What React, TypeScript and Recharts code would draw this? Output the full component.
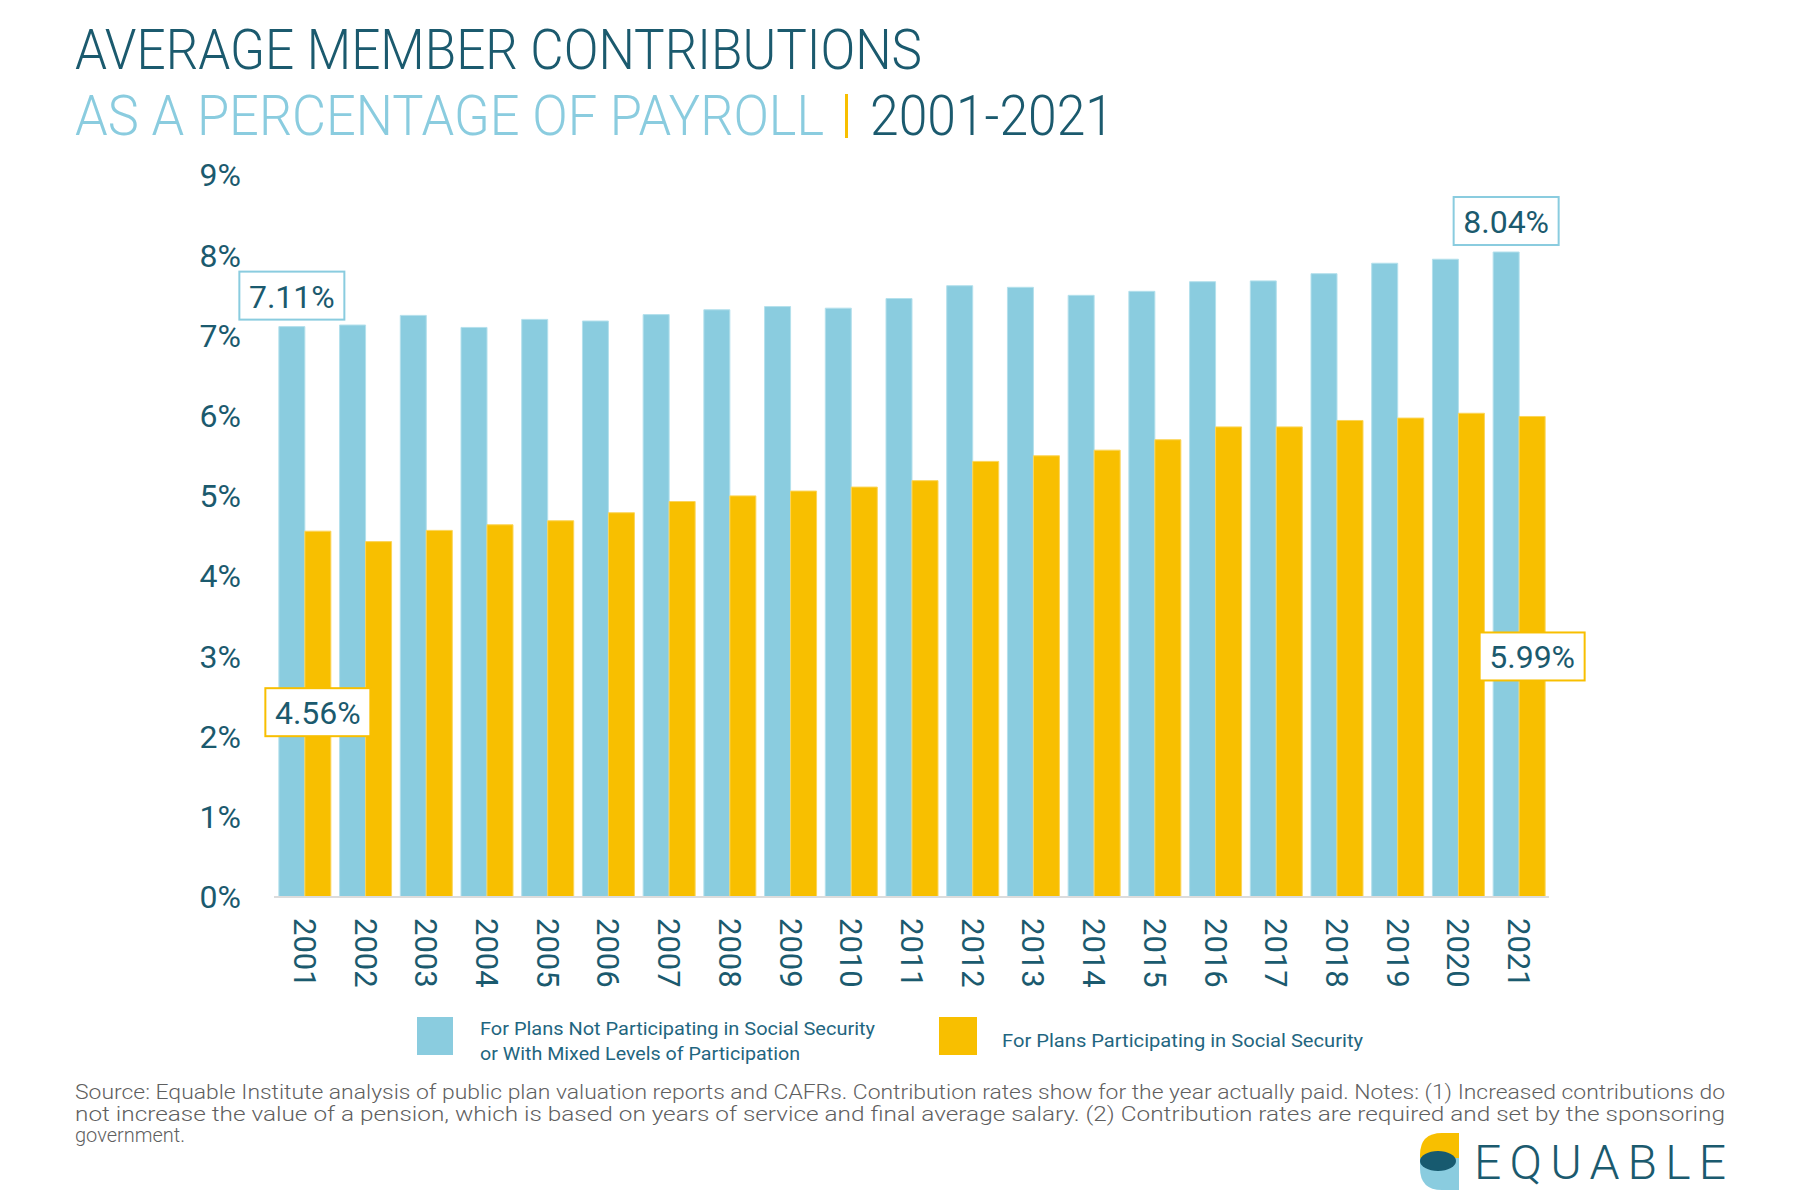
import React from 'react';
import { BarChart, Bar, XAxis, YAxis, LabelList } from 'recharts';

// values (percent of payroll)
const years = ['2001', '2002', '2003', '2004', '2005', '2006', '2007', '2008', '2009', '2010', '2011',
    '2012', '2013', '2014', '2015', '2016', '2017', '2018', '2019', '2020', '2021'];
const notParticipating = [7.11, 7.13, 7.25, 7.10, 7.20, 7.18, 7.26, 7.32, 7.36, 7.34, 7.46,
    7.62, 7.60, 7.50, 7.55, 7.67, 7.68, 7.77, 7.90, 7.95, 8.04];
const participating = [4.56, 4.43, 4.57, 4.64, 4.69, 4.79, 4.93, 5.00, 5.06, 5.11, 5.19,
    5.43, 5.50, 5.57, 5.70, 5.86, 5.86, 5.94, 5.97, 6.03, 5.99];
const yTicks = [0, 1, 2, 3, 4, 5, 6, 7, 8, 9];
const seriesNames = [
    ['For Plans Not Participating in Social Security', 'or With Mixed Levels of Participation'],
    ['For Plans Participating in Social Security'],
];
const footnote = [
    'Source: Equable Institute analysis of public plan valuation reports and CAFRs. Contribution rates show for the year actually paid. Notes: (1) Increased contributions do',
    'not increase the value of a pension, which is based on years of service and final average salary. (2) Contribution rates are required and set by the sponsoring',
    'government.',
];
// which bars get a value box
const blueCallouts = [0, 20];
const yellowCallouts = [0, 20];

const data = years.map((year, i) => ({ year, notSS: notParticipating[i], ss: participating[i] }));

const FONT = "Roboto, 'DejaVu Sans', sans-serif";
const DARK = '#1b5a6e';
const BLUE = '#8accdf';
const YELLOW = '#f8bf00';

// yellow boxes sit inside the bar, this far under its top
const yellowDrop: Record<number, number> = { 0: 157, 20: 216 };

const ValueBox = (props: any, kind: 'blue' | 'yellow') => {
    const vb = props.viewBox && props.viewBox.width !== undefined ? props.viewBox : props;
    const { x, y, width } = vb;
    const index = props.index;
    const list = kind === 'blue' ? blueCallouts : yellowCallouts;
    if (!list.includes(index)) return null;
    const w = 105;
    const h = 48;
    const cx = Number(x) + Number(width) / 2;
    const top = kind === 'blue' ? Number(y) - 7 - h : Number(y) + yellowDrop[index];
    return (
        <g>
            <rect x={cx - w / 2} y={top} width={w} height={h} fill="#fff"
                stroke={kind === 'blue' ? BLUE : YELLOW} strokeWidth={2} />
            <text x={cx} y={top + h / 2 + 1} textAnchor="middle" dominantBaseline="central"
                fontFamily={FONT} fontSize={32} fill={DARK}>
                {Number(props.value).toFixed(2)}%
            </text>
        </g>
    );
};

const YearTick = (props: any) => {
    const { x, y, payload } = props;
    return (
        <text x={x} y={y} transform={`rotate(90, ${x}, ${y})`} textAnchor="start"
            dominantBaseline="central" fontFamily={FONT} fontSize={31} fill={DARK}>
            {payload.value}
        </text>
    );
};

const Overlay = () => (
    <svg width={1800} height={1200} style={{ position: 'absolute', left: 0, top: 0 }}>
        <text x={75} y={69} fontFamily={FONT} fontSize={56} fontWeight={300} fill={DARK}
            textLength={847} lengthAdjust="spacingAndGlyphs">AVERAGE MEMBER CONTRIBUTIONS</text>
        <text x={75} y={135} fontFamily={FONT} fontSize={56} fontWeight={300} fill={BLUE}
            textLength={749} lengthAdjust="spacingAndGlyphs">AS A PERCENTAGE OF PAYROLL</text>
        <rect x={845} y={94} width={3} height={44} fill={YELLOW} />
        <text x={870} y={135} fontFamily={FONT} fontSize={56} fontWeight={300} fill={DARK}
            textLength={244} lengthAdjust="spacingAndGlyphs">2001-2021</text>

        {/* legend */}
        <rect x={417} y={1017} width={36} height={38} fill={BLUE} />
        <text x={480} y={1035} fontFamily={FONT} fontSize={19} fill="#1f6680"
            textLength={395} lengthAdjust="spacingAndGlyphs">{seriesNames[0][0]}</text>
        <text x={480} y={1060} fontFamily={FONT} fontSize={19} fill="#1f6680"
            textLength={320} lengthAdjust="spacingAndGlyphs">{seriesNames[0][1]}</text>
        <rect x={939} y={1017} width={38} height={38} fill={YELLOW} />
        <text x={1002} y={1047} fontFamily={FONT} fontSize={19} fill="#1f6680"
            textLength={361} lengthAdjust="spacingAndGlyphs">{seriesNames[1][0]}</text>

        {/* footnote */}
        <text x={75} y={1099} fontFamily={FONT} fontSize={20} fontWeight={300} fill="#5f5f5f"
            textLength={1650} lengthAdjust="spacingAndGlyphs">{footnote[0]}</text>
        <text x={75} y={1121} fontFamily={FONT} fontSize={20} fontWeight={300} fill="#5f5f5f"
            textLength={1650} lengthAdjust="spacingAndGlyphs">{footnote[1]}</text>
        <text x={75} y={1142} fontFamily={FONT} fontSize={20} fontWeight={300} fill="#5f5f5f">{footnote[2]}</text>

        {/* logo */}
        <path d="M1459,1133 L1459,1165 L1420,1165 L1420,1155 Q1420,1133 1442,1133 Z" fill={YELLOW} />
        <path d="M1459,1158 L1459,1190 L1442,1190 Q1420,1190 1420,1168 L1420,1158 Z" fill={BLUE} />
        <ellipse cx={1438} cy={1161} rx={18} ry={10} fill="#175a6f" />
        <text x={1474} y={1179} fontFamily={FONT} fontSize={48} fontWeight={300} fill={DARK}
            textLength={252} lengthAdjust="spacing">EQUABLE</text>
    </svg>
);

export default function App() {
    return (
        <div style={{ position: 'absolute', left: 0, top: 0, width: 1800, height: 1200, background: '#fff' }}>
            <Overlay />
            <div style={{ position: 'absolute', left: 0, top: 0 }}>
                <BarChart width={1800} height={1200} data={data}
                    margin={{ top: 175, right: 251, bottom: 0, left: 0 }}
                    barCategoryGap="8%" barGap={0}>
                    <XAxis dataKey="year" height={303} tickLine={false} tickSize={0} tickMargin={21}
                        axisLine={{ stroke: '#dcdcdc', strokeWidth: 2 }} tick={<YearTick />} interval={0} />
                    <YAxis width={274} domain={[0, 9]} ticks={yTicks} axisLine={false} tickLine={false}
                        tickSize={0} tickMargin={33} tickFormatter={(v: number) => `${v}%`}
                        tick={{ fontFamily: FONT, fontSize: 32, fill: DARK }} />
                    <Bar dataKey="notSS" fill={BLUE} stroke="#b4e0ec" strokeWidth={1} isAnimationActive={false}>
                        <LabelList dataKey="notSS" content={(p: any) => ValueBox(p, 'blue')} />
                    </Bar>
                    <Bar dataKey="ss" fill={YELLOW} stroke="#fbd55a" strokeWidth={1} isAnimationActive={false}>
                        <LabelList dataKey="ss" content={(p: any) => ValueBox(p, 'yellow')} />
                    </Bar>
                </BarChart>
            </div>
        </div>
    );
}
